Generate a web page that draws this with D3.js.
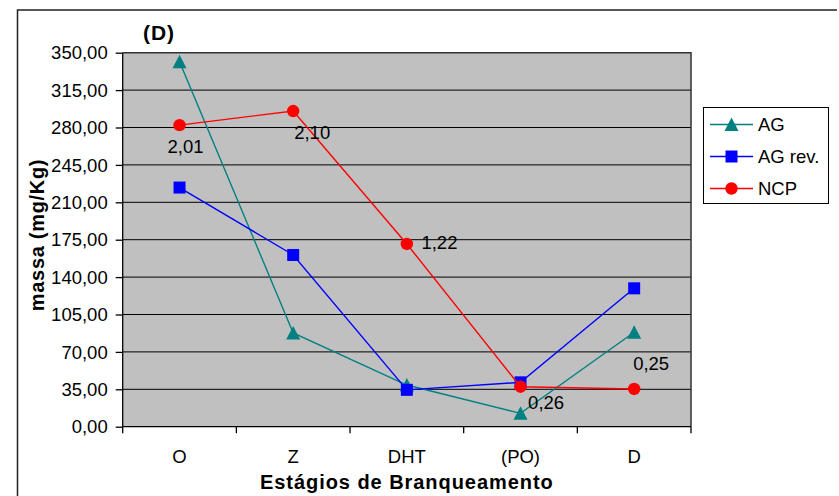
<!DOCTYPE html>
<html>
<head>
<meta charset="utf-8">
<script src="https://cdn.jsdelivr.net/npm/d3@7"></script>
<style>
  html, body { margin: 0; padding: 0; background: #fff; }
  svg text { font-family: Arial, "Liberation Sans", sans-serif; fill: #000; }
</style>
</head>
<body>
<svg id="chart" width="839" height="496"></svg>
<script>
// ---- data ----
const categories = ["O", "Z", "DHT", "(PO)", "D"];
const agValues    = [341.5, 87.7, 39.0, 12.5, 88.4];
const agRevValues = [223.8, 160.7, 34.5, 41.5, 129.5];
const ncpValues   = [282.2, 295.4, 171.0, 37.4, 35.3];
const ncpLabels   = ["2,01", "2,10", "1,22", "0,26", "0,25"];
const yTicks      = [0, 35, 70, 105, 140, 175, 210, 245, 280, 315, 350];
const seriesNames = ["AG", "AG rev.", "NCP"];

// ---- layout / style (not data) ----
const W = 839, H = 496;
const plot = { left: 122.7, right: 691, top: 52.7, bottom: 426.7 };
const colors = { "AG": "#008080", "AG rev.": "#0000FF", "NCP": "#FF0000" };
const markers = { "AG": "triangle", "AG rev.": "square", "NCP": "circle" };
// label offsets relative to the NCP point: [dx, dy, anchor]
const labelOffsets = [[6, 28, "middle"], [1, 28, "start"], [14.6, 5.3, "start"], [7.6, 22.3, "start"], [-1, -19, "start"]];

const svg = d3.select("#chart");

const x = d3.scaleBand().domain(categories).range([plot.left, plot.right]).padding(0);
const y = d3.scaleLinear().domain([0, 350]).range([plot.bottom, plot.top]);
const cx = c => x(c) + x.bandwidth() / 2;

// outer frame
svg.append("path")
  .attr("d", `M17.5,${H + 2} L17.5,10 L837,10`)
  .attr("fill", "none").attr("stroke", "#222").attr("stroke-width", 1.5);

// plot background
svg.append("rect")
  .attr("x", plot.left).attr("y", plot.top)
  .attr("width", plot.right - plot.left).attr("height", plot.bottom - plot.top)
  .attr("fill", "#C0C0C0");

// gridlines
svg.append("g").selectAll("line").data(yTicks.filter(t => t > 0 && t < 350)).join("line")
  .attr("x1", plot.left).attr("x2", plot.right)
  .attr("y1", d => y(d)).attr("y2", d => y(d))
  .attr("stroke", "#000").attr("stroke-width", 1);

// plot border (top/right)
svg.append("path")
  .attr("d", `M${plot.left},${plot.top} L${plot.right},${plot.top} L${plot.right},${plot.bottom}`)
  .attr("fill", "none").attr("stroke", "#333").attr("stroke-width", 1.5);

// Y axis
const fmt = d => d3.format(".2f")(d).replace(".", ",");
const yAxis = d3.axisLeft(y).tickValues(yTicks).tickFormat(fmt).tickSize(7).tickPadding(8);
const gy = svg.append("g").attr("transform", `translate(${plot.left},0)`).call(yAxis);
gy.select(".domain").attr("stroke", "#000").attr("stroke-width", 1.3).attr("d", `M0,${plot.top}V${plot.bottom}`);
gy.selectAll(".tick line").attr("stroke", "#000").attr("stroke-width", 1.3);
gy.selectAll(".tick text")
  .attr("font-size", "18.5px").attr("font-family", "Arial, 'Liberation Sans', sans-serif")
  .attr("fill", "#000").attr("dy", "0.34em");

// X axis
const xAxis = d3.axisBottom(x).tickSize(0).tickPadding(0);
const gx = svg.append("g").attr("transform", `translate(0,${plot.bottom})`).call(xAxis);
gx.select(".domain").attr("stroke", "#000").attr("stroke-width", 1.3).attr("d", `M${plot.left},0H${plot.right}`);
gx.selectAll(".tick text")
  .attr("font-size", "18.5px").attr("font-family", "Arial, 'Liberation Sans', sans-serif")
  .attr("fill", "#000").attr("dy", 0).attr("y", 36);
// category boundary ticks
const bounds = categories.map(c => x(c)).concat([plot.right]);
gx.append("g").selectAll("line").data(bounds).join("line")
  .attr("x1", d => d).attr("x2", d => d).attr("y1", 0).attr("y2", 6.5)
  .attr("stroke", "#000").attr("stroke-width", 1.3);

// titles
svg.append("text").attr("x", 159).attr("y", 40).attr("text-anchor", "middle")
  .attr("font-size", "21px").attr("font-weight", "bold").attr("letter-spacing", "1px").text("(D)");
svg.append("text").attr("x", (plot.left + plot.right) / 2).attr("y", 489).attr("text-anchor", "middle")
  .attr("font-size", "20px").attr("font-weight", "bold").attr("letter-spacing", "0.95px")
  .text("Estágios de Branqueamento");
svg.append("text").attr("transform", "translate(43.5,235) rotate(-90)").attr("text-anchor", "middle")
  .attr("font-size", "20px").attr("font-weight", "bold").attr("letter-spacing", "0.7px")
  .text("massa (mg/Kg)");

// marker drawing
function drawMarker(g, type, color) {
  if (type === "triangle") {
    g.append("path").attr("d", "M0,-7 L7,6.5 L-7,6.5 Z").attr("fill", color);
  } else if (type === "square") {
    g.append("rect").attr("x", -6).attr("y", -6).attr("width", 12).attr("height", 12).attr("fill", color);
  } else {
    g.append("circle").attr("r", 6.2).attr("fill", color);
  }
}

const series = [
  { name: "AG", values: agValues },
  { name: "AG rev.", values: agRevValues },
  { name: "NCP", values: ncpValues }
];

const line = d3.line().x(d => cx(d.c)).y(d => y(d.v));
series.forEach(s => {
  const pts = categories.map((c, i) => ({ c, v: s.values[i] }));
  const g = svg.append("g");
  g.append("path").datum(pts).attr("d", line)
    .attr("fill", "none").attr("stroke", colors[s.name]).attr("stroke-width", 1.4);
  pts.forEach(p => {
    const mg = g.append("g").attr("transform", `translate(${cx(p.c)},${y(p.v)})`);
    drawMarker(mg, markers[s.name], colors[s.name]);
  });
});

// NCP data labels
svg.append("g").selectAll("text").data(categories).join("text")
  .attr("x", (c, i) => cx(c) + labelOffsets[i][0])
  .attr("y", (c, i) => y(ncpValues[i]) + labelOffsets[i][1])
  .attr("text-anchor", (c, i) => labelOffsets[i][2])
  .attr("font-size", "18.5px")
  .text((c, i) => ncpLabels[i]);

// legend
const lg = svg.append("g");
lg.append("rect").attr("x", 703.5).attr("y", 107.5).attr("width", 125).attr("height", 96)
  .attr("fill", "#fff").attr("stroke", "#000").attr("stroke-width", 1);
seriesNames.forEach((n, i) => {
  const yy = 124.5 + i * 32;
  lg.append("line").attr("x1", 710).attr("x2", 753).attr("y1", yy).attr("y2", yy)
    .attr("stroke", colors[n]).attr("stroke-width", 1.4);
  const mg = lg.append("g").attr("transform", `translate(731.5,${yy})`);
  drawMarker(mg, markers[n], colors[n]);
  lg.append("text").attr("x", 758).attr("y", yy + 6.5).attr("font-size", "18.5px").text(n);
});
</script>
</body>
</html>
